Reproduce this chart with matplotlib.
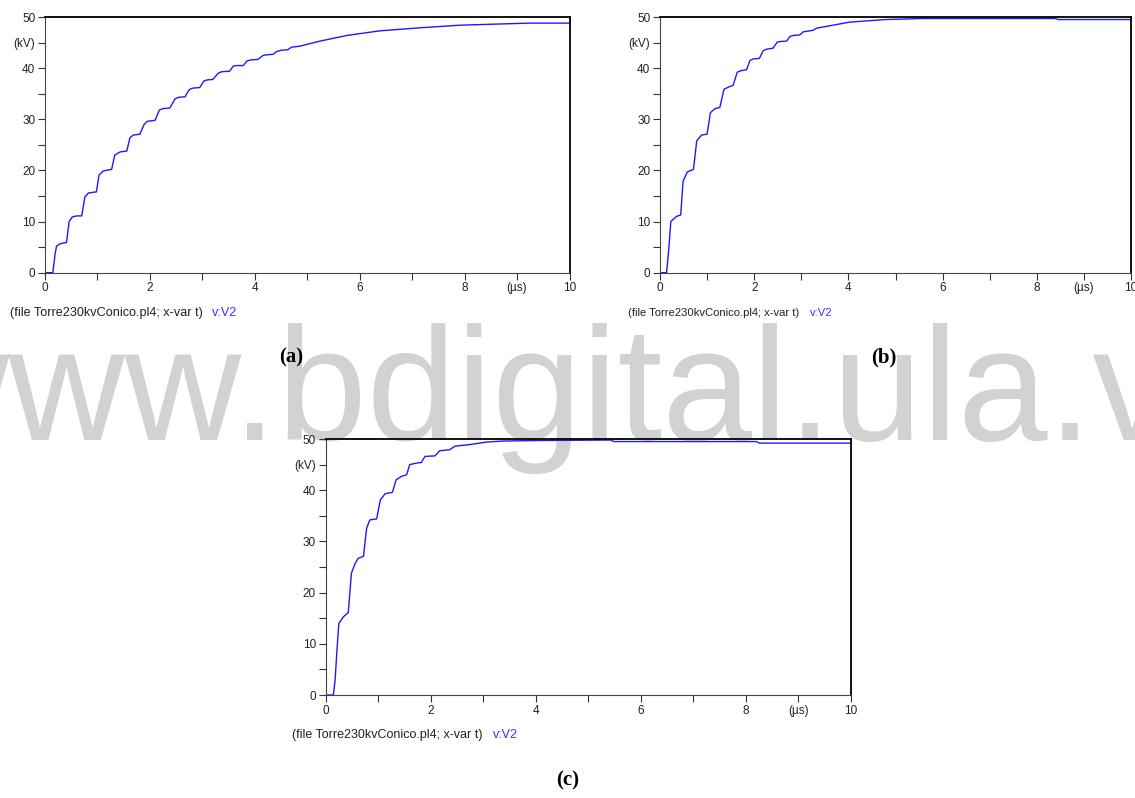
import matplotlib
matplotlib.use("Agg")
import matplotlib.pyplot as plt

# Datos (t en us, v en kV)
t_a = [0, 0.15, 0.19, 0.22, 0.30, 0.41, 0.46, 0.52, 0.60, 0.70, 0.76, 0.83, 0.98,
       1.03, 1.11, 1.27, 1.33, 1.43, 1.56, 1.62, 1.68, 1.81, 1.89, 1.95, 2.10,
       2.18, 2.25, 2.38, 2.48, 2.55, 2.67, 2.75, 2.82, 2.95, 3.03, 3.10, 3.20,
       3.30, 3.37, 3.52, 3.59, 3.65, 3.78, 3.85, 3.92, 4.06, 4.16, 4.22, 4.35,
       4.41, 4.50, 4.63, 4.70, 4.86, 5.25, 5.76, 6.39, 7.16, 7.92, 8.56, 9.22, 10.0]
v_a = [0, 0, 3.5, 5.2, 5.7, 5.9, 10.0, 10.9, 11.1, 11.1, 14.8, 15.6, 15.8,
       19.1, 19.9, 20.2, 23.0, 23.6, 23.8, 26.4, 26.9, 27.1, 29.0, 29.6, 29.8,
       31.8, 32.1, 32.2, 34.0, 34.3, 34.4, 35.8, 36.1, 36.2, 37.5, 37.7, 37.8,
       39.0, 39.3, 39.4, 40.4, 40.5, 40.5, 41.4, 41.6, 41.7, 42.5, 42.6, 42.7,
       43.2, 43.5, 43.6, 44.1, 44.3, 45.3, 46.4, 47.3, 47.9, 48.4, 48.6, 48.8, 48.8]

t_b = [0, 0.14, 0.19, 0.23, 0.35, 0.44, 0.49, 0.58, 0.71, 0.78, 0.88, 1.00,
       1.07, 1.17, 1.27, 1.36, 1.48, 1.55, 1.64, 1.72, 1.84, 1.91, 1.98, 2.11,
       2.19, 2.26, 2.40, 2.49, 2.56, 2.69, 2.76, 2.84, 2.97, 3.04, 3.25, 3.32,
       3.67, 4.03, 4.79, 5.55, 8.40, 8.45, 10.0]
v_b = [0, 0, 5.0, 10.0, 11.0, 11.3, 17.9, 19.7, 20.2, 25.8, 26.9, 27.1,
       31.3, 32.1, 32.3, 35.9, 36.4, 36.6, 39.2, 39.5, 39.7, 41.5, 41.8, 41.9,
       43.4, 43.7, 43.9, 45.1, 45.2, 45.3, 46.2, 46.4, 46.5, 47.1, 47.4, 47.8,
       48.4, 49.0, 49.5, 49.7, 49.7, 49.5, 49.5]

t_c = [0, 0.146, 0.18, 0.21, 0.25, 0.34, 0.43, 0.46, 0.49, 0.56, 0.62, 0.72,
       0.75, 0.78, 0.84, 0.97, 1.04, 1.13, 1.27, 1.34, 1.44, 1.54, 1.60, 1.73,
       1.82, 1.89, 2.08, 2.17, 2.36, 2.46, 2.74, 3.06, 3.37, 4.00, 5.43, 5.48,
       8.20, 8.25, 10.0]
v_c = [0, 0, 3.0, 8.1, 14.0, 15.3, 16.1, 20.0, 23.8, 25.7, 26.7, 27.1,
       30.0, 32.6, 34.2, 34.4, 38.1, 39.3, 39.6, 42.0, 42.7, 43.0, 45.0, 45.3,
       45.4, 46.6, 46.7, 47.7, 47.9, 48.6, 48.9, 49.4, 49.6, 49.7, 49.8, 49.5,
       49.5, 49.2, 49.2]

x_ticks = list(range(0, 11))
x_labels = ['0', '', '2', '', '4', '', '6', '', '8', '(µs)', '10']
y_ticks = list(range(0, 51, 5))
y_labels = ['0', '', '10', '', '20', '', '30', '', '40', '(kV)', '50']

file_txt = '(file Torre230kvConico.pl4; x-var t)'
var_txt = 'v:V2'
W, H = 1135, 798

fig = plt.figure(figsize=(11.35, 7.98), dpi=100)

# marca de agua
fig.text(-108 / W, 1 - 440 / H, 'www.bdigital.ula.ve', fontsize=116,
         family='Liberation Sans', color='#d2d2d2', va='baseline', ha='left',
         zorder=-1)


def panel(box, t, v, txt_x, var_x, txt_y, cap, cap_xy, fs):
    l, tp, r, b = box
    ax = fig.add_axes([l / W, 1 - b / H, (r - l) / W, (b - tp) / H])
    ax.set_facecolor('none')
    ax.plot(t, v, color='#1a1aff', lw=1.0)
    ax.set_xlim(0, 10)
    ax.set_ylim(0, 50)
    ax.set_xticks(x_ticks)
    ax.set_xticklabels(x_labels)
    ax.set_yticks(y_ticks)
    ax.set_yticklabels(y_labels)
    ax.tick_params(direction='out', length=5, width=0.8, color='#333333',
                   labelsize=8.5, labelcolor='#222222', pad=2)
    for lab in ax.get_xticklabels() + ax.get_yticklabels():
        lab.set_family('Liberation Sans')
    ax.spines['top'].set_color('black')
    ax.spines['right'].set_color('black')
    ax.spines['top'].set_linewidth(1.3)
    ax.spines['right'].set_linewidth(1.3)
    ax.spines['left'].set_color('#444444')
    ax.spines['bottom'].set_color('#444444')
    fig.text(txt_x / W, 1 - txt_y / H, file_txt, fontsize=fs,
             family='Liberation Sans', color='#222222', va='center')
    fig.text(var_x / W, 1 - txt_y / H, var_txt, fontsize=fs,
             family='Liberation Sans', color='#3333ff', va='center')
    fig.text(cap_xy[0] / W, 1 - cap_xy[1] / H, cap, fontsize=15,
             family='Liberation Serif', weight='bold', ha='center', va='center')
    return ax


panel((45, 17, 569.5, 272.7), t_a, v_a, 10, 212, 313, '(a)', (291, 357), 9.1)
panel((660, 17, 1131, 272.7), t_b, v_b, 628, 810, 313, '(b)', (884, 357), 8.1)
panel((325.7, 439, 851, 695), t_c, v_c, 292, 493, 735, '(c)', (568, 780), 9.0)

fig.savefig('out.png', dpi=100)
